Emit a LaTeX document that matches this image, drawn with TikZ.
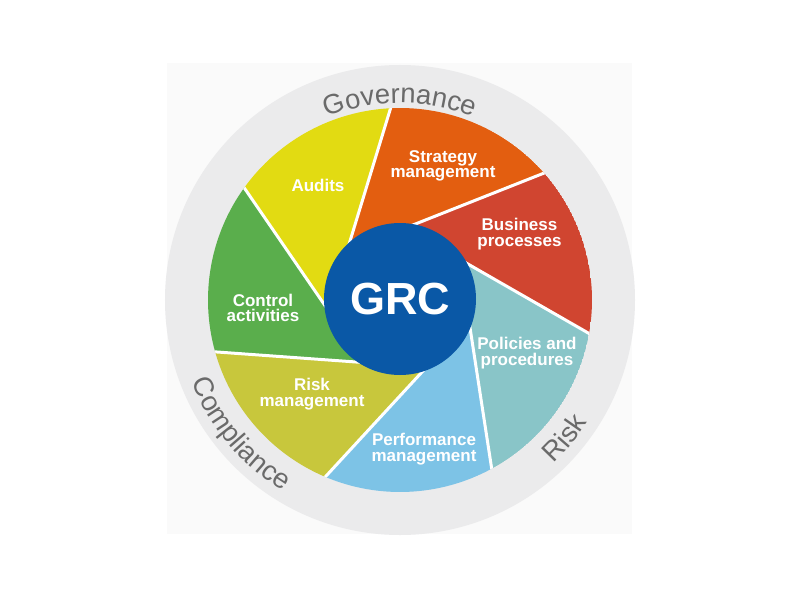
\documentclass[tikz,border=0pt]{standalone}
\usepackage{fontspec}
\setmainfont{Liberation Sans}
\usetikzlibrary{decorations.text}
\definecolor{cOrange}{HTML}{E35E10}
\definecolor{cRed}{HTML}{D04530}
\definecolor{cTeal}{HTML}{89C5C8}
\definecolor{cBlue}{HTML}{7DC3E6}
\definecolor{cOlive}{HTML}{C8C73C}
\definecolor{cGreen}{HTML}{5AAE4C}
\definecolor{cYellow}{HTML}{E2DB12}
\definecolor{grcblue}{HTML}{0A58A6}
\definecolor{ringgray}{HTML}{EBEBEC}
\definecolor{ringtxt}{HTML}{6A6A6A}
\definecolor{bgfaint}{HTML}{FAFAFA}
\newcommand\ringfont{\fontsize{27.5}{27.5}\selectfont}
\begin{document}
\begin{tikzpicture}[x=1pt,y=1pt,
  seglabel/.style={text=white, font=\bfseries\fontsize{17}{15.5}\selectfont, align=center, inner sep=0pt},
  divider/.style={white, line width=3pt},
  ringlabel/.style={decorate, decoration={text along path, text align=center, text color=ringtxt, text={|\ringfont|#1}}}]
\useasboundingbox (-400,-300) rectangle (400,300);
\fill[white] (-400,-300) rectangle (400,300);
\fill[bgfaint] (-233,-234) rectangle (232,237);
\fill[ringgray] (0,0) circle[radius=235];
% segments
\begin{scope}
\clip (0,0) circle[radius=192];
\foreach \i/\col in {0/cOrange,1/cRed,2/cTeal,3/cBlue,4/cOlive,5/cGreen,6/cYellow} {
  \pgfmathsetmacro\a{92.6-\i*360/7}
  \pgfmathsetmacro\b{\a-360/7}
  \pgfmathsetmacro\c{\a+44.9}
  \fill[\col] (\a:192) arc[start angle=\a, end angle=\b, radius=192] -- (\c:72.2) -- cycle;
}
\foreach \i in {0,...,6} {
  \pgfmathsetmacro\a{92.6-\i*360/7}
  \pgfmathsetmacro\t{\a+70.2}
  \draw[divider] (\a:194) -- (\t:65);
}
\end{scope}
% centre
\node[circle, fill=grcblue, minimum size=152pt, inner sep=0pt, text=white,
      font=\bfseries\fontsize{45}{45}\selectfont] (grc) at (0,1) {GRC};
% segment labels
\node[seglabel] (audits) at (-82,115) {Audits};
\node[seglabel] (strategy) at (43,134) {Strategy\\management};
\node[seglabel] (business) at (119.5,66) {Business\\processes};
\node[seglabel] (policies) at (127,-53) {Policies and\\procedures};
\node[seglabel] (performance) at (24,-149) {Performance\\management};
\node[seglabel] (risk) at (-88,-94) {Risk\\management};
\node[seglabel] (control) at (-137,-8) {Control\\activities};
% ring labels
\path[ringlabel=Governance] (120:197) arc[start angle=120, end angle=60, radius=197];
\path[ringlabel=Compliance] (180:224) arc[start angle=180, end angle=260, radius=224];
\path[ringlabel=Risk] (290:224) arc[start angle=290, end angle=350, radius=224];
\end{tikzpicture}
\end{document}
